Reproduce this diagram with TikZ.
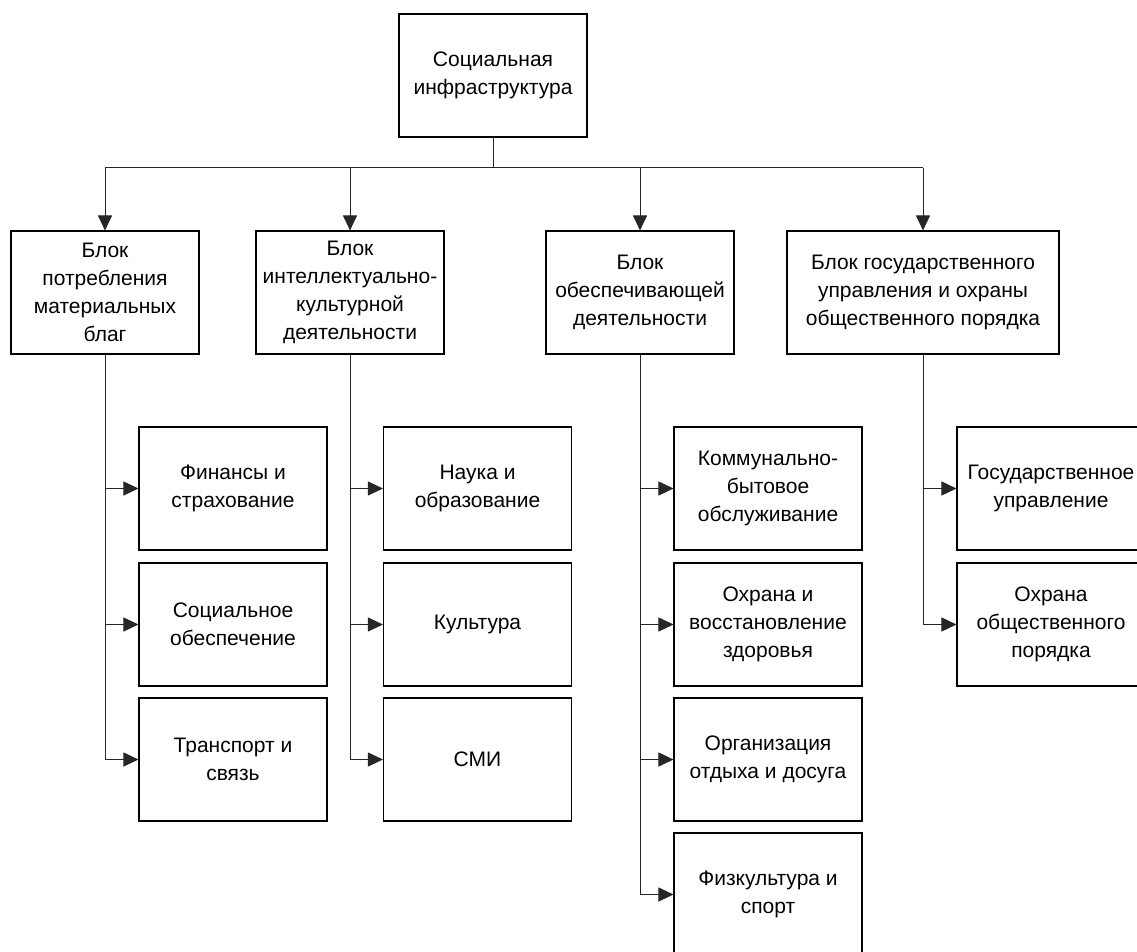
\documentclass[tikz,border=0pt]{standalone}
\usepackage{fontspec}
\setmainfont{Liberation Sans}
\usetikzlibrary{arrows.meta}
\begin{document}
\begin{tikzpicture}[x=1pt,y=-1pt,
  box/.style={draw=black, line width=1.1pt, minimum width=188pt, minimum height=123pt,
    align=center, inner sep=0pt,
    font=\fontsize{21pt}{28pt}\selectfont},
  wide/.style={box, minimum width=272pt},
  link/.style={draw=black!85, line width=1pt},
  arr/.style={link, -{Triangle[length=15pt, width=14pt]}}]
  \useasboundingbox (0,0) rectangle (1137,952);
  \clip (0,0) rectangle (1137,952);
  \fill[white] (0,0) rectangle (1137,952);

  % root
  \node[box] (root) at (493,75.5) {Социальная\\инфраструктура};

  % blocks
  \node[box]  (b1) at (105,292.5) {Блок\\потребления\\материальных\\благ};
  \node[box]  (b2) at (350,292.5) {Блок\\интеллектуально-\\культурной\\деятельности};
  \node[box]  (b3) at (640,292.5) {Блок\\обеспечивающей\\деятельности};
  \node[wide] (b4) at (923,292.5) {Блок государственного\\управления и охраны\\общественного порядка};

  % first column
  \node[box] (c11) at (233,488.5) {Финансы и\\страхование};
  \node[box] (c12) at (233,624.5) {Социальное\\обеспечение};
  \node[box] (c13) at (233,759.5) {Транспорт и\\связь};

  % second column
  \node[box] (c21) at (477.5,488.5) {Наука и\\образование};
  \node[box] (c22) at (477.5,624.5) {Культура};
  \node[box] (c23) at (477.5,759.5) {СМИ};

  % third column
  \node[box] (c31) at (768,488.5) {Коммунально-\\бытовое\\обслуживание};
  \node[box] (c32) at (768,624.5) {Охрана и\\восстановление\\здоровья};
  \node[box] (c33) at (768,759.5) {Организация\\отдыха и досуга};
  \node[box] (c34) at (768,894.5) {Физкультура и\\спорт};

  % fourth column
  \node[box] (c41) at (1051,488.5) {Государственное\\управление};
  \node[box] (c42) at (1051,624.5) {Охрана\\общественного\\порядка};

  % root to blocks
  \coordinate (hub) at (root.south |- 0,168);
  \draw[link] (root.south) -- (hub);
  \draw[link] (b1.north |- hub) -- (b4.north |- hub);
  \foreach \b in {b1,b2,b3,b4}
    \draw[arr] (\b.north |- hub) -- (\b.north);

  % blocks to their members
  \draw[link] (b1.south) -- (b1.south |- c13.west);
  \draw[link] (b2.south) -- (b2.south |- c23.west);
  \draw[link] (b3.south) -- (b3.south |- c34.west);
  \draw[link] (b4.south) -- (b4.south |- c42.west);
  \foreach \c in {c11,c12,c13}
    \draw[arr] (b1.south |- \c.west) -- (\c.west);
  \foreach \c in {c21,c22,c23}
    \draw[arr] (b2.south |- \c.west) -- (\c.west);
  \foreach \c in {c31,c32,c33,c34}
    \draw[arr] (b3.south |- \c.west) -- (\c.west);
  \foreach \c in {c41,c42}
    \draw[arr] (b4.south |- \c.west) -- (\c.west);
\end{tikzpicture}
\end{document}
